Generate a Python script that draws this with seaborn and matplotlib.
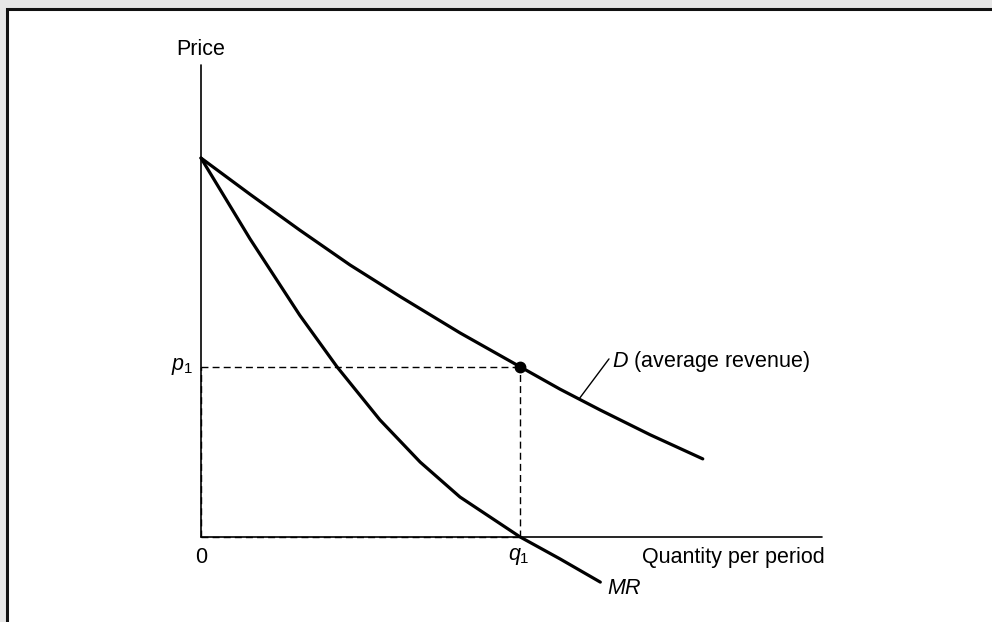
import matplotlib
matplotlib.use('Agg')
import matplotlib.pyplot as plt
from matplotlib.patches import Rectangle
import seaborn as sns
import numpy as np
import pandas as pd

sns.set_theme(style='white')
plt.rcParams['font.family'] = ['Liberation Sans', 'DejaVu Sans']
plt.rcParams['mathtext.fontset'] = 'custom'
plt.rcParams['mathtext.rm'] = 'Liberation Sans'
plt.rcParams['mathtext.it'] = 'Liberation Sans:italic'
plt.rcParams['text.color'] = 'black'

# demand (average revenue) curve
d_qty = [0.0, 0.79, 1.59, 2.40, 3.22, 4.17, 5.14, 5.78, 6.43, 7.23, 8.08]
d_price = [8.15, 7.37, 6.60, 5.85, 5.16, 4.39, 3.66, 3.18, 2.73, 2.20, 1.68]

# marginal revenue curve
mr_qty = [0.0, 0.79, 1.59, 2.19, 2.88, 3.53, 4.17, 5.14, 5.78, 6.43]
mr_price = [8.15, 6.41, 4.77, 3.66, 2.52, 1.61, 0.86, 0.0, -0.47, -0.97]

# chosen point
q1 = 5.14
p1 = 3.66

x_max = 10.0
y_max = 10.15

fig = plt.figure(figsize=(9.92, 6.22), dpi=100)
fig.patch.set_facecolor('#e6e6e6')
panel = Rectangle((6.5 / 992, -0.1), 1.2, (622 - 8.5) / 622 + 0.1,
                  transform=fig.transFigure, facecolor='white',
                  edgecolor='#111111', linewidth=2.2, zorder=-5)
fig.patches.append(panel)

ax = fig.add_axes([0, 0, 1, 1])
ax.set_facecolor('none')
px_x = 62.1
px_y = 46.5
ax.set_xlim(-201 / px_x, (992 - 201) / px_x)
ax.set_ylim(-85 / px_y, 537 / px_y)
ax.axis('off')

# axes lines
ax.plot([0, 0], [0, y_max], color='black', lw=1.2)
ax.plot([0, x_max], [0, 0], color='black', lw=1.2)

demand = pd.DataFrame({'q': d_qty, 'p': d_price})
sns.lineplot(data=demand, x='q', y='p', color='black', lw=2.3,
             estimator=None, sort=False, ax=ax)
mr = pd.DataFrame({'q': mr_qty, 'p': mr_price})
sns.lineplot(data=mr, x='q', y='p', color='black', lw=2.3,
             estimator=None, sort=False, ax=ax)

# dashed guides
dash = dict(color='black', lw=1.0, dashes=(5, 3))
ax.plot([0, q1], [p1, p1], **dash)
ax.plot([q1, q1], [0, p1], **dash)
ax.plot([0, q1], [0, 0], **dash)
ax.plot([0, 0], [0, p1], **dash)
ax.plot([q1], [p1], 'o', color='black', ms=7.5)

fs = 15.5
ax.text(0, 10.48, 'Price', fontsize=fs, ha='center', va='center')
ax.text(0, -0.45, '0', fontsize=fs, ha='center', va='center')
ax.text(q1 - 0.03, -0.42, r'$q_{\mathrm{1}}$', fontsize=fs, ha='center',
        va='center')
ax.text(-0.13, p1, r'$p_{\mathrm{1}}$', fontsize=fs, ha='right', va='center')
ax.text(7.1, -0.45, 'Quantity per period', fontsize=fs, ha='left',
        va='center')
ax.text(6.53, -1.1, r'$MR$', fontsize=fs, ha='left', va='center')
ax.text(6.62, 3.78, r'$D$ (average revenue)', fontsize=fs, ha='left',
        va='center')
# leader line from label to demand curve
ax.plot([6.10, 6.57], [2.99, 3.83], color='black', lw=1.0)

fig.savefig('out.png', dpi=100, facecolor=fig.get_facecolor())
